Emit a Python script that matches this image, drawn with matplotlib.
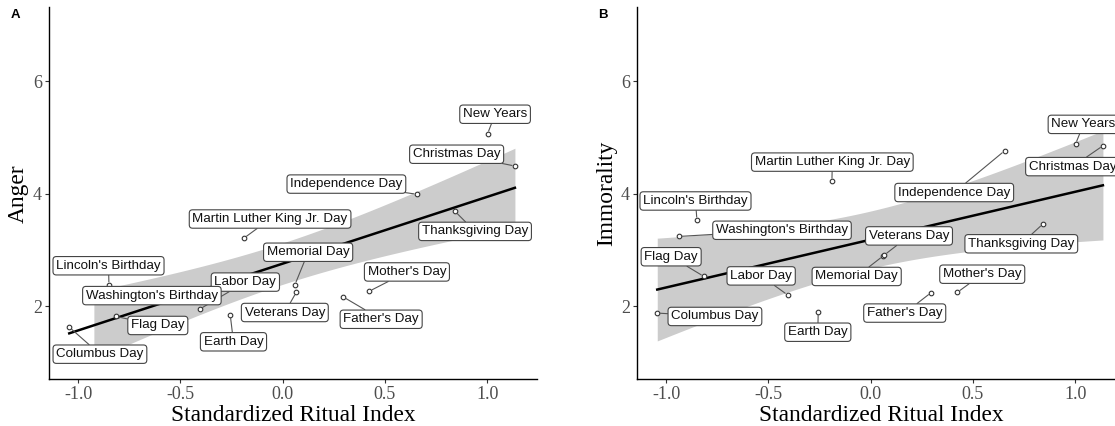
import numpy as np
import matplotlib
matplotlib.use("Agg")
import matplotlib.pyplot as plt

# holidays, ritual index and the two outcome ratings
holidays = ["New Years", "Christmas Day", "Independence Day", "Thanksgiving Day",
            "Martin Luther King Jr. Day", "Memorial Day", "Veterans Day",
            "Mother's Day", "Father's Day", "Labor Day", "Earth Day",
            "Lincoln's Birthday", "Washington's Birthday", "Flag Day", "Columbus Day"]
ritual_index = [1.002, 1.136, 0.655, 0.842, -0.189, 0.060, 0.067, 0.425, 0.295,
                -0.405, -0.256, -0.849, -0.938, -0.815, -1.043]
anger = [5.06, 4.49, 3.99, 3.69, 3.21, 2.38, 2.25, 2.27, 2.17,
         1.95, 1.85, 2.38, 2.20, 1.82, 1.63]
immorality = [4.88, 4.85, 4.76, 3.46, 4.22, 2.89, 2.91, 2.25, 2.24,
              2.20, 1.90, 3.53, 3.24, 2.53, 1.88]

# where the repelled labels sit (data coords), same order as holidays
anger_lab_x = [1.039, 0.851, 0.312, 0.941, -0.061, 0.125, 0.011, 0.608, 0.482,
               -0.182, -0.240, -0.851, -0.639, -0.610, -0.893]
anger_lab_y = [5.41, 4.70, 4.17, 3.33, 3.55, 2.96, 1.89, 2.61, 1.77,
               2.43, 1.37, 2.72, 2.19, 1.66, 1.15]
immor_lab_x = [1.041, 0.988, 0.409, 0.737, -0.187, -0.068, 0.188, 0.546, 0.167,
               -0.535, -0.258, -0.856, -0.433, -0.975, -0.761]
immor_lab_y = [5.23, 4.48, 4.02, 3.11, 4.56, 2.53, 3.25, 2.57, 1.88,
               2.54, 1.54, 3.87, 3.35, 2.88, 1.82]

plt.rcParams["font.family"] = ["Liberation Serif", "DejaVu Serif"]
plt.rcParams["axes.unicode_minus"] = False

LABEL_FONT = ["Liberation Sans", "DejaVu Sans"]
T_CRIT = 2.160  # t(0.975, df = 13)


def draw_panel(ax, yvals, lab_x, lab_y, ylabel, band_start=None):
    x = np.array(ritual_index)
    y = np.array(yvals)
    n = len(x)

    # linear fit with 95% confidence band
    slope, intercept = np.polyfit(x, y, 1)
    resid = y - (intercept + slope * x)
    s = np.sqrt(np.sum(resid ** 2) / (n - 2))
    sxx = np.sum((x - x.mean()) ** 2)
    xs = np.linspace(x.min(), x.max(), 200)
    fit = intercept + slope * xs
    se = s * np.sqrt(1.0 / n + (xs - x.mean()) ** 2 / sxx)
    keep = xs >= (x.min() if band_start is None else band_start)
    ax.fill_between(xs[keep], (fit - T_CRIT * se)[keep], (fit + T_CRIT * se)[keep],
                    color="#cccccc", lw=0, zorder=1)
    ax.plot(xs, fit, color="black", lw=1.8, zorder=2)

    ax.scatter(x, y, s=11, facecolor="white", edgecolor="#333333", lw=0.8, zorder=3)

    for name, px, py, lx, ly in zip(holidays, x, y, lab_x, lab_y):
        ax.annotate(name, xy=(px, py), xytext=(lx, ly), textcoords="data",
                    ha="center", va="center", fontsize=9.6, family=LABEL_FONT,
                    color="#111111", zorder=4, annotation_clip=False,
                    bbox=dict(boxstyle="round,pad=0.24,rounding_size=0.25",
                              fc="white", ec="#444444", lw=0.8),
                    arrowprops=dict(arrowstyle="-", color="#555555", lw=0.8,
                                    shrinkA=0, shrinkB=2.2))

    ax.set_xlim(-1.142, 1.244)
    ax.set_ylim(0.704, 7.305)
    ax.set_xticks([-1.0, -0.5, 0.0, 0.5, 1.0])
    ax.set_xticklabels(["-1.0", "-0.5", "0.0", "0.5", "1.0"])
    ax.set_yticks([2, 4, 6])
    ax.tick_params(length=3, width=0.8, color="#333333", labelsize=13,
                   labelcolor="#4d4d4d", pad=2)
    for side in ["top", "right"]:
        ax.spines[side].set_visible(False)
    for side in ["left", "bottom"]:
        ax.spines[side].set_linewidth(1.0)
    ax.set_xlabel("Standardized Ritual Index", fontsize=16.8, labelpad=1)
    ax.set_ylabel(ylabel, fontsize=16.8, labelpad=3)


fig = plt.figure(figsize=(11.15, 4.26), dpi=100)
ax_a = fig.add_axes([0.04395, 0.1096, 0.43767, 0.8728])
ax_b = fig.add_axes([0.5713, 0.1096, 0.43767, 0.8728])

draw_panel(ax_a, anger, anger_lab_x, anger_lab_y, "Anger", band_start=-0.925)
draw_panel(ax_b, immorality, immor_lab_x, immor_lab_y, "Immorality")

fig.text(15.7 / 1115, 1 - 15 / 426, "A", fontsize=9.5, fontweight="bold",
         family=LABEL_FONT, ha="center", va="center")
fig.text(603 / 1115, 1 - 15 / 426, "B", fontsize=9.5, fontweight="bold",
         family=LABEL_FONT, ha="center", va="center")

fig.savefig("out.png", dpi=100)
